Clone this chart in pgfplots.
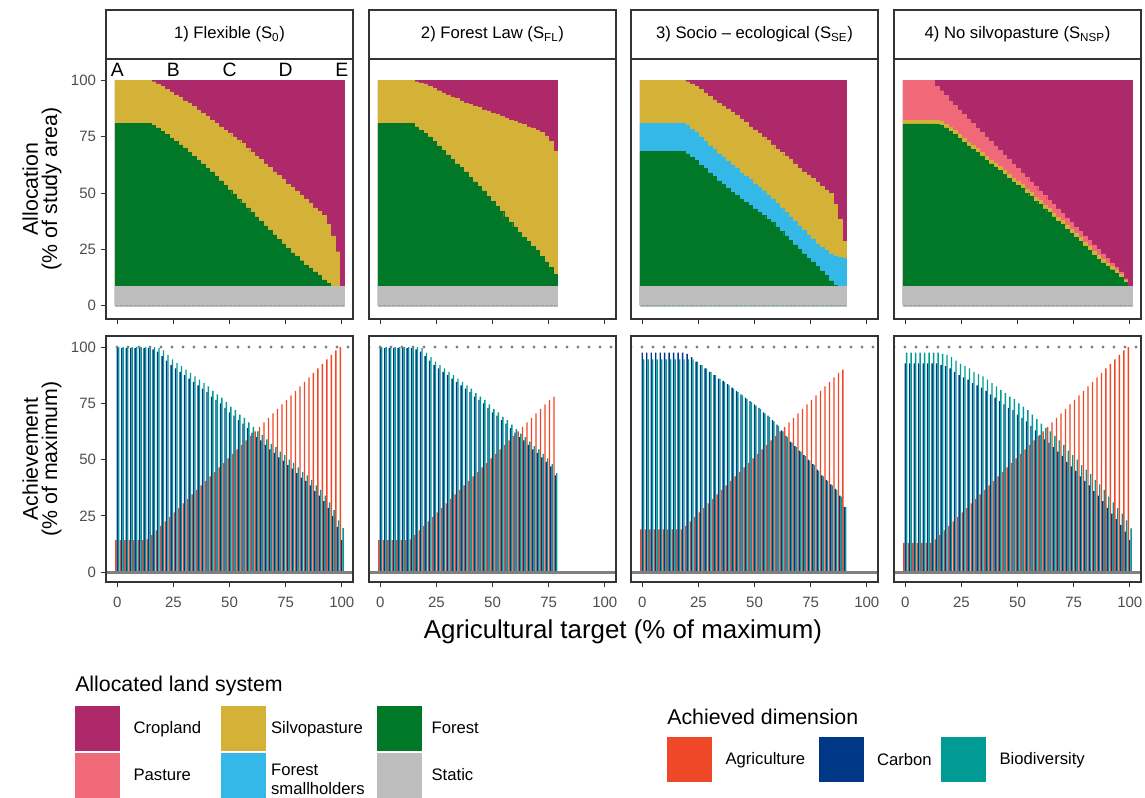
\documentclass[border=0pt]{standalone}
\usepackage{pgfplots}
\pgfplotsset{compat=1.18}
\usepackage{pgfplotstable}
\usepackage{fontspec}
\setmainfont{Liberation Sans}
\setsansfont{Liberation Sans}

\definecolor{crop}{RGB}{173,41,105}
\definecolor{silvo}{RGB}{212,178,55}
\definecolor{forest}{RGB}{0,120,40}
\definecolor{past}{RGB}{240,105,120}
\definecolor{small}{RGB}{52,184,232}
\definecolor{static}{RGB}{189,189,189}
\definecolor{agri}{RGB}{238,72,40}
\definecolor{carb}{RGB}{0,55,135}
\definecolor{biod}{RGB}{0,155,148}
\definecolor{frame}{RGB}{51,51,51}
\definecolor{ticktext}{RGB}{77,77,77}
\definecolor{refline}{RGB}{128,128,128}

% 1) Flexible
\pgfplotstableread{
x cr sv fo st ag ca bi
0 100 100 81 8.7 14.2 99.5 100
2 100 100 81 8.7 14.2 99.5 100
4 100 100 81 8.7 14.2 99.5 100
6 100 100 81 8.7 14.2 99.5 100
8 100 100 81 8.7 14.2 99.5 100
10 100 100 81 8.7 14.2 99.5 100
12 100 100 81 8.7 14.2 99.5 100
14 100 100 81 8.7 14.5 99.5 100
16 100 99.5 80 8.7 16.5 99 100
18 100 98.5 79 8.7 18.5 98 99.5
20 100 97.5 77.5 8.7 20.5 96 98.5
22 100 96 76 8.7 22.5 94 96.5
24 100 95 74.5 8.7 24.5 92 94.5
26 100 93.5 73 8.7 26.5 90.5 93
28 100 92.5 71.5 8.7 28.5 89 91.5
30 100 91 70 8.7 30.5 87.5 90
32 100 90 68 8.7 32.5 86 88.5
34 100 88.5 66.5 8.7 34.5 84.5 87
36 100 87 64.5 8.7 36.5 83 85.5
38 100 85.5 63 8.7 38.5 81.5 84
40 100 84 61 8.7 40.5 80 82.5
42 100 82.5 59.5 8.7 42.5 78 80.5
44 100 81 57.5 8.7 44.5 76.5 79
46 100 79.5 55.5 8.7 46.5 75 77.5
48 100 78 53.5 8.7 48.5 73 75.5
50 100 76.5 51.5 8.7 50.5 71 73.5
52 100 75 49.5 8.7 52.5 69.5 72
54 100 73.5 47.5 8.7 54.5 67.5 70
56 100 72 45.5 8.7 56.5 66 68.5
58 100 70 43.5 8.7 58.5 64 66.5
60 100 68 41.5 8.7 60.5 62 64.5
62 100 66.5 39.5 8.7 62.5 60 62.5
64 100 65 37.5 8.7 64.5 58.5 61
66 100 63 35.5 8.7 66.5 56.5 59
68 100 61.5 33.5 8.7 68.5 54.5 57
70 100 59.5 31.5 8.7 70.5 53 55.5
72 100 58 29.5 8.7 72.5 51 53.5
74 100 56 27.5 8.7 74.5 49.5 52
76 100 54 25.5 8.7 76.5 47.5 50
78 100 52.5 23.5 8.7 78.5 46 48.5
80 100 51 22 8.7 80.5 44 46.5
82 100 49 20 8.7 82.5 42 44.5
84 100 47.5 18 8.7 84.5 40.5 43
86 100 45.5 16.5 8.7 86.5 38.5 41
88 100 43.5 15 8.7 88.5 36 38.5
90 100 42 13.5 8.7 90.5 34 36.5
92 100 40 11.5 8.7 92.5 31.5 34
94 100 36 10 8.7 94.5 28.5 31
96 100 31 8.7 8.7 96.5 25 27.5
98 100 24 8.7 8.7 98.5 20 23
100 100 8.7 8.7 8.7 100 14.2 19.5
}\Ta

% 2) Forest Law
\pgfplotstableread{
x cr sv fo st ag ca bi
0 100 100 81 8.7 14.2 99.5 100
2 100 100 81 8.7 14.2 99.5 100
4 100 100 81 8.7 14.2 99.5 100
6 100 100 81 8.7 14.2 99.5 100
8 100 100 81 8.7 14.2 99.5 100
10 100 100 81 8.7 14.2 99.5 100
12 100 100 81 8.7 14.2 99.5 100
14 100 100 81 8.7 14.5 99.5 100
16 100 99.5 79.5 8.7 16.5 99 100
18 100 99 78 8.7 18.5 98 99.5
20 100 98.5 76.5 8.7 20.5 96 97.5
22 100 97.5 75 8.7 22.5 94 95.5
24 100 96.5 73 8.7 24.5 92 93.5
26 100 95.5 71 8.7 26.5 90.5 92
28 100 94.5 69 8.7 28.5 89 90.5
30 100 93.5 67 8.7 30.5 87.5 89
32 100 92.5 65 8.7 32.5 86 87.5
34 100 92 63 8.7 34.5 84.5 86
36 100 91 61.5 8.7 36.5 83 84.5
38 100 90 59.5 8.7 38.5 81.5 83
40 100 89.5 57 8.7 40.5 80 81.5
42 100 88.5 55 8.7 42.5 78 79.5
44 100 88 53 8.7 44.5 76.5 78
46 100 87 51 8.7 46.5 75 76.5
48 100 86.5 48.5 8.7 48.5 73 74.5
50 100 85.5 46.5 8.7 50.5 71 72.5
52 100 85 44 8.7 52.5 69.5 71
54 100 84 42 8.7 54.5 67.5 69
56 100 83.5 39.5 8.7 56.5 66 67.5
58 100 82.5 37 8.7 58.5 64 65.5
60 100 82 35 8.7 60.5 62 63.5
62 100 81 32.5 8.7 62.5 60 61.5
64 100 80.5 30.5 8.7 64.5 58.5 60
66 100 79.5 28.5 8.7 66.5 56.5 58
68 100 79 26.5 8.7 68.5 54.5 56
70 100 78 24.5 8.7 70.5 53 54.5
72 100 77 22 8.7 72.5 51 52.5
74 100 75.5 19.5 8.7 74.5 49 50.5
76 100 73 17 8.7 76.5 47 48
78 100 68.5 14 8.7 78 43 44
}\Tb

% 3) Socio-ecological
\pgfplotstableread{
x cr sv sh fo st ag ca bi
0 100 100 81 68.5 8.7 19 97.5 94.5
2 100 100 81 68.5 8.7 19 97.5 94.5
4 100 100 81 68.5 8.7 19 97.5 94.5
6 100 100 81 68.5 8.7 19 97.5 94.5
8 100 100 81 68.5 8.7 19 97.5 94.5
10 100 100 81 68.5 8.7 19 97.5 94.5
12 100 100 81 68.5 8.7 19 97.5 94.5
14 100 100 81 68.5 8.7 19 97.5 94.5
16 100 100 81 68.5 8.7 19 97.5 94.5
18 100 100 81 68.5 8.7 19 97.5 94.5
20 100 99.5 80 67.5 8.7 20.5 97 94.5
22 100 98.5 78.5 66 8.7 22.5 95.5 94.5
24 100 97.5 77 64.5 8.7 24.5 93.5 93.5
26 100 96 75 62.5 8.7 26.5 92 92
28 100 94.5 73 61 8.7 28.5 90.5 90.5
30 100 93 71 59 8.7 30.5 89 89
32 100 91.5 69.5 57.5 8.7 32.5 87.5 87.5
34 100 90 67.5 55.5 8.7 34.5 86 86
36 100 88.5 66 54 8.7 36.5 85 84.5
38 100 87.5 64 52 8.7 38.5 83.5 83
40 100 86 62.5 50.5 8.7 40.5 82 81.5
42 100 84.5 61 49 8.7 42.5 80.5 80
44 100 83 59 47.5 8.7 44.5 79 78.5
46 100 81.5 57.5 46 8.7 46.5 77.5 77
48 100 79.5 56 44.5 8.7 48.5 76 75.5
50 100 78 54 43 8.7 50.5 74.5 74
52 100 76.5 52.5 41.5 8.7 52.5 73 72.5
54 100 75 51 40 8.7 54.5 71 70.5
56 100 73.5 49 38.5 8.7 56.5 69.5 69
58 100 71.5 47.5 37 8.7 58.5 67.5 67
60 100 69.5 45.5 35 8.7 60.5 65.5 65
62 100 68 43.5 33 8.7 62.5 63 62.5
64 100 66.5 41.5 31 8.7 64.5 60.5 60
66 100 65 39.5 29 8.7 66.5 58 57.5
68 100 63 37.5 27 8.7 68.5 56 55.5
70 100 61 35.5 25 8.7 70.5 54 53.5
72 100 59.5 33.5 23 8.7 72.5 52 51.5
74 100 58 31.5 21 8.7 74.5 50 49.5
76 100 56.5 29.5 19.5 8.7 76.5 48 47.5
78 100 55 27.5 17.5 8.7 78.5 45.5 45
80 100 53 26 15.5 8.7 80.5 43 42.5
82 100 51.5 24.5 13.5 8.7 82.5 41 40.5
84 100 50 23 11 8.7 84.5 39 38.5
86 100 45 22 9 8.7 86.5 37 36.5
88 100 38.5 21.5 8.7 8.7 88.5 34 33.5
90 100 28.5 21 8.7 8.7 90 29 29
}\Tc

% 4) No silvopasture
\pgfplotstableread{
x cr pa sv fo st ag ca bi
0 100 100 82.5 80.8 8.7 13 92.7 97.5
2 100 100 82.5 80.8 8.7 13 92.7 97.5
4 100 100 82.5 80.8 8.7 13 92.7 97.5
6 100 100 82.5 80.8 8.7 13 92.7 97.5
8 100 100 82.5 80.8 8.7 13 92.7 97.5
10 100 100 82.5 80.8 8.7 13 92.7 97.5
12 100 100 82.5 80.8 8.7 13 92.7 97.5
14 100 97.5 82.3 80.5 8.7 14.5 92.7 97.5
16 100 95.5 81.8 80 8.7 16.5 92 97
18 100 93.5 80.8 79 8.7 18.5 91.5 96.5
20 100 91 79.3 77.5 8.7 20.5 90.5 95.5
22 100 89 77.8 76 8.7 22.5 89 94
24 100 87 76.3 74.5 8.7 24.5 87.5 92.5
26 100 85 74.3 72.5 8.7 26.5 86.5 91.5
28 100 83 72.8 71 8.7 28.5 85.5 90.5
30 100 81 71.3 69.5 8.7 30.5 84 89
32 100 79 69.8 68 8.7 32.5 83 88
34 100 77 68.3 66.5 8.7 34.5 82 87
36 100 75 66.3 64.5 8.7 36.5 80.5 85.5
38 100 73 64.8 63 8.7 38.5 79 84
40 100 71 63.3 61.5 8.7 40.5 77.5 82.5
42 100 69 61.8 60 8.7 42.5 76 81
44 100 67 60.3 58.5 8.7 44.5 74.5 79.5
46 100 65 58.3 56.5 8.7 46.5 73 78
48 100 63 56.8 55 8.7 48.5 72 77
50 100 61 55.3 53.5 8.7 50.5 70 75
52 100 59 53.8 52 8.7 52.5 68.5 73.5
54 100 57 51.8 50 8.7 54.5 67 72
56 100 55 50.3 48.5 8.7 56.5 65 70
58 100 53 48.3 46.5 8.7 58.5 63 68
60 100 51 46.8 45 8.7 60.5 61 66
62 100 49 44.8 43 8.7 62.5 59 64
64 100 47 43.3 41.5 8.7 64.5 57.5 62.5
66 100 45 41.3 39.5 8.7 66.5 55.5 60.5
68 100 43 39.3 37.5 8.7 68.5 53.5 58.5
70 100 41 37.8 36 8.7 70.5 51.5 56.5
72 100 39 35.8 34 8.7 72.5 49 54
74 100 37 33.8 32 8.7 74.5 47 52
76 100 35 32.3 30.5 8.7 76.5 45 50
78 100 33 30.3 28.5 8.7 78.5 42.5 47.5
80 100 31 28.3 26.5 8.7 80.5 40.5 45.5
82 100 29 26.3 24.5 8.7 82.5 38.5 43.5
84 100 27 24.3 22.5 8.7 84.5 36 41
86 100 25 22.3 20.5 8.7 86.5 34 39
88 100 23 20.8 19 8.7 88.5 31.5 36.5
90 100 21 19 17.5 8.7 90.5 28.5 33.5
92 100 19 17.5 16 8.7 92.5 26 31
94 100 17 16 14.5 8.7 94.5 23.5 28.5
96 100 15 14 12.5 8.7 96.5 21 26
98 100 12 11.5 10.5 8.7 98.5 18 23
100 100 8.7 8.7 8.7 8.7 100 14.2 19.4
}\Td

\pgfplotsset{
  panel/.style={
    scale only axis, width=185.25pt, anchor=north west,
    xmin=-5, xmax=105, xtick={0,25,50,75,100},
    axis line style={draw=frame, line width=0.8pt},
    every tick/.style={draw=frame, line width=0.8pt},
    tick align=outside, major tick length=4pt,
    xtick pos=left, ytick pos=left,
    tick label style={font=\fontsize{11.25}{12}\selectfont, text=ticktext},
    xticklabel shift=3.5pt,
    /pgf/number format/assume math mode=true,
    axis on top,
  },
  toprow/.style={panel, height=195pt, ymin=-5.9, ymax=109.6, xticklabels={},
    every axis title shift=0pt,
    title style={draw=frame, line width=0.8pt, fill=white,
      minimum width=185.25pt, minimum height=36.75pt, inner sep=0pt, outer sep=0pt,
      anchor=south, at={(0.5,1)}, yshift=0pt,
      font=\fontsize{12.5}{13}\selectfont}},
  botrow/.style={panel, height=184.5pt, ymin=-4.4, ymax=104.9},
  lay/.style={ybar, bar width=2, bar shift=0, fill=#1, draw=#1, line width=0.3pt},
  br/.style 2 args={ybar, bar width=0.62, bar shift=#2, fill=#1, draw=none},
  dotref/.style={refline, line width=2.5pt, line cap=round, dash pattern=on 0pt off 8.25pt},
  zeroref/.style={refline, line width=2.2pt},
  legkey/.style={legend image code/.code={
    \fill[#1] (0pt,-16.5pt) rectangle (33pt,16.5pt); \path (43.5pt,0pt);}},
}

\begin{document}
\begin{tikzpicture}
\useasboundingbox (0,0) rectangle (858.75pt,-597.75pt);

% ---------- top row: allocation ----------
\begin{axis}[toprow, at={(79.5pt,-44.25pt)}, ytick={0,25,50,75,100},
  title={1) Flexible (S\textsubscript{0})}]
\addplot[lay=crop] table[x=x,y=cr]{\Ta};
\addplot[lay=silvo] table[x=x,y=sv]{\Ta};
\addplot[lay=forest] table[x=x,y=fo]{\Ta};
\addplot[lay=static] table[x=x,y=st]{\Ta};
\foreach \p/\l in {0/A,25/B,50/C,75/D,100/E}{
  \edef\tmp{\noexpand\node[font=\noexpand\fontsize{14.5}{15}\noexpand\selectfont] at (axis cs:\p,104.6) {\l};}\tmp}
\end{axis}

\begin{axis}[toprow, at={(276.75pt,-44.25pt)}, ytick=\empty,
  title={2) Forest Law (S\textsubscript{FL})}]
\addplot[lay=crop] table[x=x,y=cr]{\Tb};
\addplot[lay=silvo] table[x=x,y=sv]{\Tb};
\addplot[lay=forest] table[x=x,y=fo]{\Tb};
\addplot[lay=static] table[x=x,y=st]{\Tb};
\end{axis}

\begin{axis}[toprow, at={(473.25pt,-44.25pt)}, ytick=\empty,
  title={3) Socio -- ecological (S\textsubscript{SE})}]
\addplot[lay=crop] table[x=x,y=cr]{\Tc};
\addplot[lay=silvo] table[x=x,y=sv]{\Tc};
\addplot[lay=small] table[x=x,y=sh]{\Tc};
\addplot[lay=forest] table[x=x,y=fo]{\Tc};
\addplot[lay=static] table[x=x,y=st]{\Tc};
\end{axis}

\begin{axis}[toprow, at={(670.5pt,-44.25pt)}, ytick=\empty,
  title={4) No silvopasture (S\textsubscript{NSP})}]
\addplot[lay=crop] table[x=x,y=cr]{\Td};
\addplot[lay=past] table[x=x,y=pa]{\Td};
\addplot[lay=silvo] table[x=x,y=sv]{\Td};
\addplot[lay=forest] table[x=x,y=fo]{\Td};
\addplot[lay=static] table[x=x,y=st]{\Td};
\end{axis}

% ---------- bottom row: achievement ----------
\begin{axis}[botrow, at={(79.5pt,-252pt)}, ytick={0,25,50,75,100}]
\addplot[br={agri}{-0.62}] table[x=x,y=ag]{\Ta};
\addplot[br={carb}{0}] table[x=x,y=ca]{\Ta};
\addplot[br={biod}{0.62}] table[x=x,y=bi]{\Ta};
\addplot[dotref] coordinates {(-5,100) (105,100)};
\addplot[zeroref] coordinates {(-5,0) (105,0)};
\end{axis}

\begin{axis}[botrow, at={(276.75pt,-252pt)}, ytick=\empty]
\addplot[br={agri}{-0.62}] table[x=x,y=ag]{\Tb};
\addplot[br={carb}{0}] table[x=x,y=ca]{\Tb};
\addplot[br={biod}{0.62}] table[x=x,y=bi]{\Tb};
\addplot[dotref] coordinates {(-5,100) (105,100)};
\addplot[zeroref] coordinates {(-5,0) (105,0)};
\end{axis}

\begin{axis}[botrow, at={(473.25pt,-252pt)}, ytick=\empty]
\addplot[br={agri}{-0.62}] table[x=x,y=ag]{\Tc};
\addplot[br={carb}{0}] table[x=x,y=ca]{\Tc};
\addplot[br={biod}{0.62}] table[x=x,y=bi]{\Tc};
\addplot[dotref] coordinates {(-5,100) (105,100)};
\addplot[zeroref] coordinates {(-5,0) (105,0)};
\end{axis}

\begin{axis}[botrow, at={(670.5pt,-252pt)}, ytick=\empty]
\addplot[br={agri}{-0.62}] table[x=x,y=ag]{\Td};
\addplot[br={carb}{0}] table[x=x,y=ca]{\Td};
\addplot[br={biod}{0.62}] table[x=x,y=bi]{\Td};
\addplot[dotref] coordinates {(-5,100) (105,100)};
\addplot[zeroref] coordinates {(-5,0) (105,0)};
\end{axis}

% ---------- axis titles ----------
\node[font=\fontsize{19.4}{19.4}\selectfont] at (467.25pt,-474pt) {Agricultural target (\% of maximum)};
\node[rotate=90, align=center, font=\fontsize{16}{14.5}\selectfont] at (31.5pt,-141.75pt)
  {Allocation\\(\% of study area)};
\node[rotate=90, align=center, font=\fontsize{16}{14.5}\selectfont] at (31.5pt,-344.25pt)
  {Achievement\\(\% of maximum)};

% ---------- legends ----------
\node[anchor=west, inner sep=0pt, font=\fontsize{16}{16}\selectfont] at (56.25pt,-514.5pt) {Allocated land system};
\begin{axis}[hide axis, scale only axis, width=1pt, height=1pt,
  at={(56.25pt,-529.5pt)}, anchor=north west,
  xmin=0, xmax=1, ymin=0, ymax=1,
  legend columns=3, legend cell align=left,
  legend style={at={(0,1)}, anchor=north west, draw=none, fill=none,
    inner sep=0pt, outer sep=0pt, row sep=1.5pt, column sep=0pt,
    font=\fontsize{12.5}{14}\selectfont, nodes={inner sep=0pt, outer sep=0pt}}]
\addlegendimage{legkey=crop}
\addlegendentry{\parbox{65.25pt}{Cropland}}
\addlegendimage{legkey=silvo}
\addlegendentry{\parbox{73.5pt}{\hspace*{-6pt}Silvopasture}}
\addlegendimage{legkey=forest}
\addlegendentry{\parbox{60pt}{\hspace*{-3pt}Forest}}
\addlegendimage{legkey=past}
\addlegendentry{\parbox{65.25pt}{Pasture}}
\addlegendimage{legkey=small}
\addlegendentry{\parbox{73.5pt}{\leftskip=-6pt Forest\\smallholders}}
\addlegendimage{legkey=static}
\addlegendentry{\parbox{60pt}{\hspace*{-3pt}Static}}
\end{axis}

\node[anchor=west, inner sep=0pt, font=\fontsize{16}{16}\selectfont] at (500.25pt,-537.75pt) {Achieved dimension};
\begin{axis}[hide axis, scale only axis, width=1pt, height=1pt,
  at={(500.25pt,-552.75pt)}, anchor=north west,
  xmin=0, xmax=1, ymin=0, ymax=1,
  legend columns=3, legend cell align=left,
  legend style={at={(0,1)}, anchor=north west, draw=none, fill=none,
    inner sep=0pt, outer sep=0pt, row sep=1.5pt, column sep=0pt,
    font=\fontsize{12.5}{14}\selectfont, nodes={inner sep=0pt, outer sep=0pt}}]
\addlegendimage{legkey=agri}
\addlegendentry{\parbox{69.75pt}{Agriculture}}
\addlegendimage{legkey=carb}
\addlegendentry{\parbox{48pt}{Carbon}}
\addlegendimage{legkey=biod}
\addlegendentry{\parbox{70pt}{Biodiversity}}
\end{axis}
\end{tikzpicture}
\end{document}
